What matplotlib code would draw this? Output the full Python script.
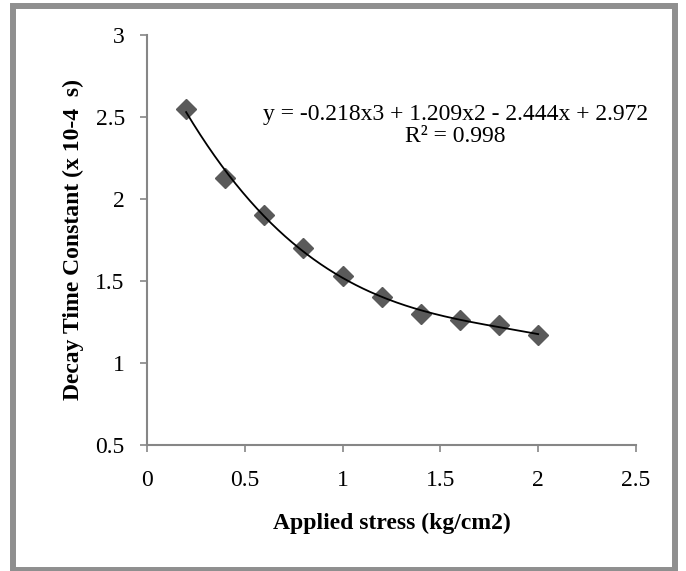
import numpy as np
import matplotlib
matplotlib.use('Agg')
import matplotlib.pyplot as plt
import matplotlib.patches as patches

plt.rcParams['font.family'] = ['Liberation Serif', 'DejaVu Serif']

# data
stress = [0.2, 0.4, 0.6, 0.8, 1.0, 1.2, 1.4, 1.6, 1.8, 2.0]
decay = [2.55, 2.13, 1.90, 1.70, 1.53, 1.40, 1.30, 1.26, 1.23, 1.17]
trend_coef = [-0.218, 1.209, -2.444, 2.972]   # cubic trendline shown on chart
x_ticks = [0, 0.5, 1, 1.5, 2, 2.5]
y_ticks = [0.5, 1, 1.5, 2, 2.5, 3]

fig = plt.figure(figsize=(6.86, 5.71), dpi=100)
ax = fig.add_axes([0.2143, 0.2207, 0.7128, 0.718])

xs = np.linspace(stress[0], stress[-1], 200)
ax.plot(stress, decay, ls='none', marker='D', ms=10.5, color='#5a5a5a', zorder=2)
ax.plot(xs, np.polyval(trend_coef, xs), color='black', lw=1.3, zorder=3)

ax.set_xlim(0, 2.5)
ax.set_ylim(0.5, 3)
ax.set_xticks(x_ticks)
ax.set_yticks(y_ticks)
ax.set_xticklabels([f'{t:g}' for t in x_ticks])
ax.set_yticklabels([f'{t:g}' for t in y_ticks])

for s in ['top', 'right']:
    ax.spines[s].set_visible(False)
for s in ['left', 'bottom']:
    ax.spines[s].set_color('#868686')
    ax.spines[s].set_linewidth(1.5)
ax.tick_params(direction='out', length=5, width=1.2, color='#868686', labelsize=17)
ax.tick_params(axis='x', pad=13)
ax.tick_params(axis='y', pad=11)

ax.set_xlabel('Applied stress (kg/cm2)', fontsize=17, fontweight='bold', labelpad=16)
ax.set_ylabel('Decay Time Constant (x 10-4  s)', fontsize=17, fontweight='bold', labelpad=8)

ax.text(0.630, 0.780, 'y = -0.218x3 + 1.209x2 - 2.444x + 2.972\nR² = 0.998',
        transform=ax.transAxes, ha='center', va='center', fontsize=17,
        linespacing=1.05)

# outer gray frame
fig.patches.append(patches.Rectangle((0.019, 0.002), 0.965, 0.988, transform=fig.transFigure,
                                     fill=False, ec='#8f8f8f', lw=4.3))

fig.savefig('out.png', dpi=100)
